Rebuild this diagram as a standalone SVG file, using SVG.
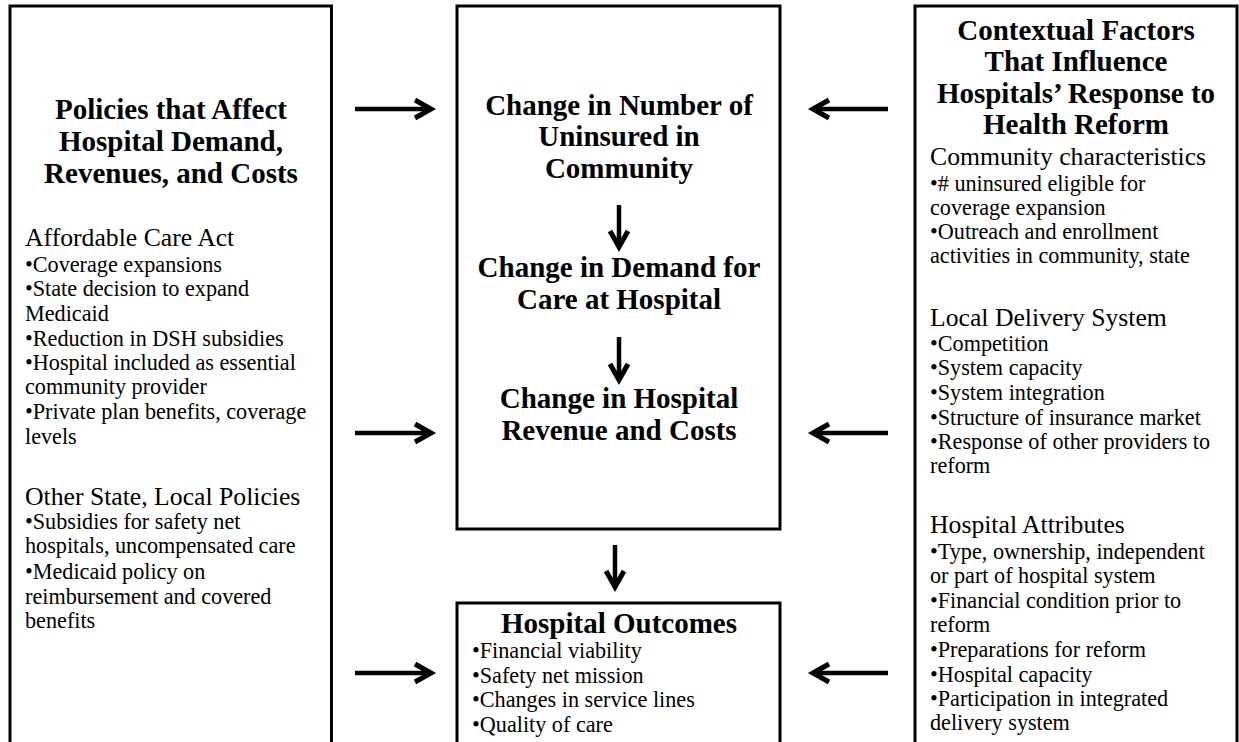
<svg xmlns="http://www.w3.org/2000/svg" width="1239" height="742" viewBox="0 0 1239 742">
<defs>
<style>
.box{fill:#fff;stroke:#000;stroke-width:3}
.t{font-family:"Liberation Serif","Times New Roman",serif;font-weight:bold;font-size:29px;text-anchor:middle;fill:#000}
.h{font-family:"Liberation Serif","Times New Roman",serif;font-size:25.7px;fill:#000}
.b{font-family:"Liberation Serif","Times New Roman",serif;font-size:22.2px;fill:#000}
.c{fill:none;stroke:#000;stroke-width:4.5}
</style>
<marker id="ah" viewBox="0 0 32 24" refX="24" refY="12" markerWidth="32" markerHeight="24" markerUnits="userSpaceOnUse" orient="auto" overflow="visible">
<path d="M8,3 L24,12 L8,21" fill="none" stroke="#000" stroke-width="5" stroke-linejoin="miter" stroke-miterlimit="10"/>
</marker>
</defs>
<rect x="0" y="0" width="1239" height="742" fill="#fff"/>

<g id="policies">
<rect class="box" x="10" y="6" width="321.5" height="760"/>
<text class="t" x="171" y="119">Policies that Affect</text>
<text class="t" x="171" y="151">Hospital Demand,</text>
<text class="t" x="171" y="183">Revenues, and Costs</text>
<text class="h" x="25" y="246">Affordable Care Act</text>
<text class="b" x="25" y="272">•Coverage expansions</text>
<text class="b" x="25" y="296">•State decision to expand</text>
<text class="b" x="25" y="321">Medicaid</text>
<text class="b" x="25" y="346">•Reduction in DSH subsidies</text>
<text class="b" x="25" y="370">•Hospital included as essential</text>
<text class="b" x="25" y="394">community provider</text>
<text class="b" x="25" y="419">•Private plan benefits, coverage</text>
<text class="b" x="25" y="444">levels</text>
<text class="h" x="25" y="505">Other State, Local Policies</text>
<text class="b" x="25" y="529">•Subsidies for safety net</text>
<text class="b" x="25" y="553">hospitals, uncompensated care</text>
<text class="b" x="25" y="579">•Medicaid policy on</text>
<text class="b" x="25" y="604">reimbursement and covered</text>
<text class="b" x="25" y="628">benefits</text>
</g>

<g id="change">
<rect class="box" x="457" y="6" width="323" height="523"/>
<text class="t" x="619" y="115">Change in Number of</text>
<text class="t" x="619" y="146">Uninsured in</text>
<text class="t" x="619" y="178">Community</text>
<text class="t" x="619" y="277">Change in Demand for</text>
<text class="t" x="619" y="309">Care at Hospital</text>
<text class="t" x="619" y="408">Change in Hospital</text>
<text class="t" x="619" y="440">Revenue and Costs</text>
</g>

<g id="outcomes">
<rect class="box" x="457" y="603" width="323" height="200"/>
<text class="t" x="619" y="633">Hospital Outcomes</text>
<text class="b" x="472" y="658">•Financial viability</text>
<text class="b" x="472" y="683">•Safety net mission</text>
<text class="b" x="472" y="707">•Changes in service lines</text>
<text class="b" x="472" y="732">•Quality of care</text>
</g>

<g id="context">
<rect class="box" x="915" y="6" width="322" height="760"/>
<text class="t" x="1076" y="40">Contextual Factors</text>
<text class="t" x="1076" y="71">That Influence</text>
<text class="t" x="1076" y="103">Hospitals’ Response to</text>
<text class="t" x="1076" y="134">Health Reform</text>
<text class="h" x="930" y="165">Community characteristics</text>
<text class="b" x="930" y="191">•# uninsured eligible for</text>
<text class="b" x="930" y="215">coverage expansion</text>
<text class="b" x="930" y="239">•Outreach and enrollment</text>
<text class="b" x="930" y="263">activities in community, state</text>
<text class="h" x="930" y="326">Local Delivery System</text>
<text class="b" x="930" y="351">•Competition</text>
<text class="b" x="930" y="375">•System capacity</text>
<text class="b" x="930" y="400">•System integration</text>
<text class="b" x="930" y="425">•Structure of insurance market</text>
<text class="b" x="930" y="449">•Response of other providers to</text>
<text class="b" x="930" y="473">reform</text>
<text class="h" x="930" y="533">Hospital Attributes</text>
<text class="b" x="930" y="559">•Type, ownership, independent</text>
<text class="b" x="930" y="583">or part of hospital system</text>
<text class="b" x="930" y="608">•Financial condition prior to</text>
<text class="b" x="930" y="632">reform</text>
<text class="b" x="930" y="657">•Preparations for reform</text>
<text class="b" x="930" y="682">•Hospital capacity</text>
<text class="b" x="930" y="706">•Participation in integrated</text>
<text class="b" x="930" y="730">delivery system</text>
</g>

<g id="connectors">
<path class="c" d="M355,109 H431" marker-end="url(#ah)"/>
<path class="c" d="M355,433 H431" marker-end="url(#ah)"/>
<path class="c" d="M355,673 H431" marker-end="url(#ah)"/>
<path class="c" d="M888,109 H813" marker-end="url(#ah)"/>
<path class="c" d="M888,433 H813" marker-end="url(#ah)"/>
<path class="c" d="M888,673 H813" marker-end="url(#ah)"/>
<path class="c" d="M619,205 V247" marker-end="url(#ah)"/>
<path class="c" d="M619,337 V380" marker-end="url(#ah)"/>
<path class="c" d="M615,545 V587" marker-end="url(#ah)"/>
</g>
</svg>
